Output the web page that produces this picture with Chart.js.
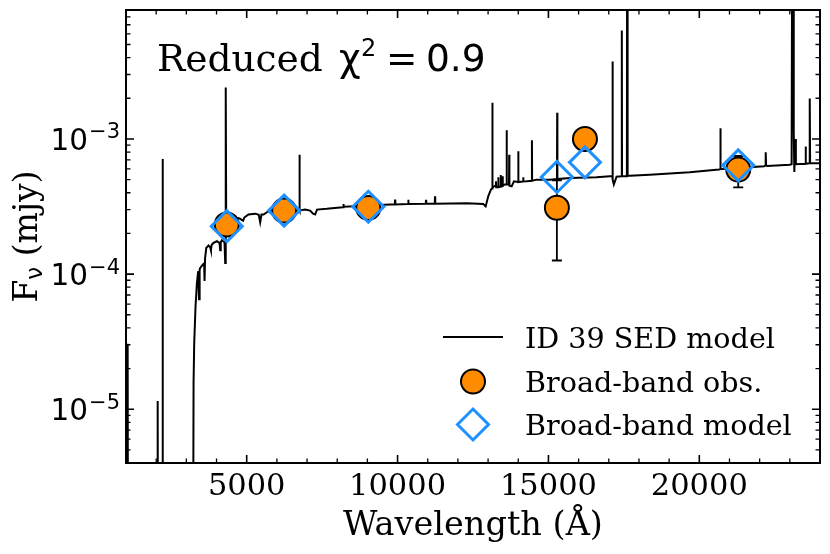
<!DOCTYPE html>
<html>
<head>
<meta charset="utf-8">
<script src="https://cdn.jsdelivr.net/npm/chart.js@4.4.1/dist/chart.umd.min.js"></script>
<style>
  html, body { margin: 0; padding: 0; background: #fff; }
  #wrap { width: 830px; height: 554px; position: relative; }
</style>
</head>
<body>
<div id="wrap"><canvas id="sed-chart"></canvas></div>
<script>
// SED model spectrum: wavelength (Å) and flux (mJy)
const sedWave = [
  1000, 1055, 1070, 2040, 2050, 2062, 2205, 2213, 2222, 3215,
  3239, 3261, 3305, 3351, 3394, 3420, 3440, 3460, 3550, 3590,
  3603, 3620, 3660, 3735, 3790, 3815, 3840, 3900, 4013, 4100,
  4122, 4140, 4178, 4265, 4288, 4300, 4311, 4322, 4400, 4500,
  4600, 4729, 4800, 4880, 4920, 5060, 5281, 5400, 5447, 5490,
  5557, 5722, 6000, 6240, 6500, 6662, 6740, 6749, 6758, 6936,
  7100, 7200, 7268, 7330, 7655, 8000, 8195, 8205, 8215, 8600,
  9030, 9400, 9751, 9910, 9917, 9925, 10350, 10357, 10364, 10936,
  10943, 10950, 11234, 11241, 11248, 12290, 12840, 12920, 13005, 13095,
  13130, 13140, 13150, 13195, 13255, 13261, 13268, 13330, 13337, 13345,
  13410, 13417, 13425, 13476, 13483, 13490, 13550, 13608, 13615, 13622,
  13693, 13700, 13707, 13780, 13857, 13993, 14000, 14007, 14158, 14165,
  14172, 14277, 14446, 14453, 14460, 14609, 15050, 15283, 15290, 15297,
  15711, 16594, 17035, 17118, 17125, 17132, 17168, 17257, 17425, 17432,
  17439, 17600, 17606, 17618, 17630, 17700, 18360, 19680, 20650, 20693,
  20700, 20707, 21300, 22150, 22185, 22200, 22215, 22250, 22995, 23060,
  23075, 23110, 23130, 23150, 23175, 23200, 23500, 23518, 23525, 23532,
  23650, 23660, 23672, 24000
];
const sedFlux = [
  3.0e-5, 3.0e-5, 1e-7, 1e-7, 1.15e-5, 1e-7, 1e-7, 7.1e-4, 1e-7, 1e-7,
  1.57e-5, 3.1e-5, 5.8e-5, 8.6e-5, 1.05e-4, 6.5e-5, 1.08e-4, 1.11e-4, 1.18e-4, 1.2e-4,
  8.9e-5, 1.3e-4, 1.56e-4, 1.63e-4, 1.58e-4, 1.5e-4, 1.65e-4, 1.7e-4, 1.75e-4, 1.7e-4,
  1.5e-4, 1.72e-4, 1.78e-4, 1.72e-4, 1.21e-4, 1.8e-4, 2.4e-3, 2.2e-4, 2.4e-4, 2.5e-4,
  2.55e-4, 2.6e-4, 2.55e-4, 2.48e-4, 2.62e-4, 2.76e-4, 2.8e-4, 2.75e-4, 2.42e-4, 2.76e-4,
  2.76e-4, 2.92e-4, 2.9e-4, 2.95e-4, 2.98e-4, 3.0e-4, 3.0e-4, 7.65e-4, 2.95e-4, 3.0e-4,
  2.95e-4, 2.8e-4, 2.76e-4, 3.0e-4, 3.04e-4, 3.1e-4, 3.12e-4, 3.3e-4, 3.15e-4, 3.18e-4,
  3.2e-4, 3.24e-4, 3.27e-4, 3.28e-4, 3.56e-4, 3.28e-4, 3.3e-4, 3.55e-4, 3.3e-4, 3.31e-4,
  3.55e-4, 3.31e-4, 3.32e-4, 3.76e-4, 3.32e-4, 3.35e-4, 3.3e-4, 3.17e-4, 3.77e-4, 4.22e-4,
  4.3e-4, 1.85e-3, 4.35e-4, 4.46e-4, 4.5e-4, 4.86e-4, 4.4e-4, 4.4e-4, 5.2e-4, 4.4e-4,
  4.45e-4, 5.4e-4, 4.45e-4, 4.5e-4, 5.3e-4, 4.5e-4, 4.6e-4, 4.6e-4, 1.16e-3, 4.6e-4,
  4.6e-4, 7.65e-4, 4.5e-4, 4.46e-4, 4.86e-4, 4.8e-4, 8.1e-4, 4.8e-4, 4.85e-4, 5.2e-4,
  4.85e-4, 4.86e-4, 4.9e-4, 9.8e-4, 4.9e-4, 5.0e-4, 5.0e-4, 5.05e-4, 1.56e-3, 5.05e-4,
  5.15e-4, 5.2e-4, 5.3e-4, 5.3e-4, 3.75e-3, 5.0e-4, 4.6e-4, 5.25e-4, 5.3e-4, 6.35e-3,
  5.3e-4, 5.3e-4, 2e-2, 2e-2, 5.35e-4, 5.35e-4, 5.44e-4, 5.66e-4, 5.95e-4, 5.97e-4,
  1.2e-3, 5.97e-4, 6.1e-4, 6.28e-4, 6.35e-4, 7.96e-4, 6.35e-4, 6.3e-4, 6.45e-4, 6.5e-4,
  2e-2, 2e-2, 1.1e-3, 5.7e-4, 1.0e-3, 6.5e-4, 6.55e-4, 6.55e-4, 8.8e-4, 6.55e-4,
  6.6e-4, 1.99e-3, 6.6e-4, 6.6e-4
];

// broad-band photometry
const bandWave = [4340, 6240, 9030, 15280, 16210, 21290];
const obsFlux = [2.33e-4, 2.95e-4, 3.09e-4, 3.10e-4, 1.0e-3, 5.93e-4];
const obsErr = [1.2e-5, 1.5e-5, 1.5e-5, 1.84e-4, 3.0e-5, 1.55e-4];
const modelFlux = [2.26e-4, 2.95e-4, 3.15e-4, 5.23e-4, 6.71e-4, 6.38e-4];

// axes
const xTicks = [5000, 10000, 15000, 20000];
const yTicks = [1e-5, 1e-4, 1e-3];
const yTickExp = ["−5", "−4", "−3"];
const legendLabels = ["ID 39 SED model", "Broad-band obs.", "Broad-band model"];

const ORANGE = "#ff8c00";
const BLUE = "#1e90ff";
const SERIF = "'DejaVu Serif'";
const SANS = "'DejaVu Sans'";

// inward ticks on all four sides + box frame
const frameTicks = {
    id: "frameTicks",
    afterDatasetsDraw(chart) {
        const { ctx, chartArea: a, scales: { x, y } } = chart;
        ctx.save();
        ctx.strokeStyle = "#000";

        function vTick(px, len, w) {
            ctx.lineWidth = w;
            ctx.beginPath();
            ctx.moveTo(px, a.bottom); ctx.lineTo(px, a.bottom - len);
            ctx.moveTo(px, a.top); ctx.lineTo(px, a.top + len);
            ctx.stroke();
        }
        function hTick(py, len, w) {
            ctx.lineWidth = w;
            ctx.beginPath();
            ctx.moveTo(a.left, py); ctx.lineTo(a.left + len, py);
            ctx.moveTo(a.right, py); ctx.lineTo(a.right - len, py);
            ctx.stroke();
        }

        for (let v = Math.ceil(x.min / 1000) * 1000; v <= x.max; v += 1000) {
            if (v % 5000 !== 0) vTick(x.getPixelForValue(v), 4.5, 1.3);
        }
        xTicks.forEach((v) => vTick(x.getPixelForValue(v), 8, 1.6));

        for (let e = -6; e <= -3; e++) {
            for (let m = 2; m <= 9; m++) {
                const v = m * Math.pow(10, e);
                if (v > y.min && v < y.max) hTick(y.getPixelForValue(v), 4.5, 1.3);
            }
        }
        yTicks.forEach((v) => hTick(y.getPixelForValue(v), 8, 1.6));

        ctx.lineWidth = 2;
        ctx.strokeRect(a.left, a.top, a.right - a.left, a.bottom - a.top);
        ctx.restore();
    }
};

// error bars on the observed points, drawn just under the orange circles
const errorBars = {
    id: "errorBars",
    beforeDatasetDraw(chart, args) {
        if (args.index !== 1) return;
        const { ctx, scales: { x, y } } = chart;
        ctx.save();
        ctx.strokeStyle = "#000";
        ctx.lineWidth = 1.8;
        bandWave.forEach((w, i) => {
            const px = x.getPixelForValue(w);
            const lo = y.getPixelForValue(obsFlux[i] - obsErr[i]);
            const hi = y.getPixelForValue(obsFlux[i] + obsErr[i]);
            ctx.beginPath();
            ctx.moveTo(px, lo); ctx.lineTo(px, hi);
            ctx.moveTo(px - 5, lo); ctx.lineTo(px + 5, lo);
            ctx.moveTo(px - 5, hi); ctx.lineTo(px + 5, hi);
            ctx.stroke();
        });
        ctx.restore();
    }
};

// y tick labels with superscripts, y title with subscript, chi^2 note, legend
const annotations = {
    id: "annotations",
    afterDraw(chart) {
        const { ctx, chartArea: a, scales: { y } } = chart;
        ctx.save();
        ctx.fillStyle = "#000";
        ctx.textAlign = "left";
        ctx.textBaseline = "alphabetic";

        // 10^n tick labels
        yTicks.forEach((v, i) => {
            const py = y.getPixelForValue(v);
            ctx.font = "21px " + SANS;
            const wExp = ctx.measureText(yTickExp[i]).width;
            ctx.font = "29.5px " + SANS;
            const wBase = ctx.measureText("10").width;
            const x0 = a.left - 6 - wExp - wBase - 1;
            ctx.fillText("10", x0, py + 10.8);
            ctx.font = "21px " + SANS;
            ctx.fillText(yTickExp[i], x0 + wBase + 1, py - 0.5);
        });

        // y axis title  F_nu (mjy)
        ctx.save();
        ctx.translate(37, (a.top + a.bottom) / 2);
        ctx.rotate(-Math.PI / 2);
        const fMain = "33px " + SERIF, fSub = "23px " + SANS;
        ctx.font = fMain;
        const wF = ctx.measureText("F").width;
        const wRest = ctx.measureText(" (mjy)").width;
        ctx.font = fSub;
        const wNu = ctx.measureText("ν").width;
        let cx = -(wF + wNu + wRest) / 2;
        ctx.font = fMain; ctx.fillText("F", cx, 0); cx += wF;
        ctx.font = fSub; ctx.fillText("ν", cx, 5); cx += wNu;
        ctx.font = fMain; ctx.fillText(" (mjy)", cx, 0);
        ctx.restore();

        // Reduced chi^2 note
        const tx = a.left + 31;
        const ty = a.top + 61;
        ctx.font = "37.5px " + SERIF;
        ctx.fillText("Reduced", tx, ty);
        ctx.font = "37.5px " + SANS;
        ctx.fillText("χ", tx + 182, ty);
        ctx.font = "24px " + SANS;
        ctx.fillText("2", tx + 204, ty - 15);
        ctx.font = "37.5px " + SANS;
        ctx.fillText("=", tx + 229, ty);
        ctx.fillText("0.9", tx + 269, ty);

        // legend
        const mx = a.right - 347;
        const lx = a.right - 295;
        const rows = [a.bottom - 126, a.bottom - 81.5, a.bottom - 38.5];
        ctx.strokeStyle = "#000";
        ctx.lineWidth = 2;
        ctx.beginPath();
        ctx.moveTo(mx - 30, rows[0]); ctx.lineTo(mx + 30, rows[0]);
        ctx.stroke();

        ctx.beginPath();
        ctx.arc(mx, rows[1], 12, 0, Math.PI * 2);
        ctx.fillStyle = ORANGE; ctx.fill();
        ctx.lineWidth = 2; ctx.stroke();

        ctx.beginPath();
        ctx.moveTo(mx - 15.5, rows[2]); ctx.lineTo(mx, rows[2] - 15.5);
        ctx.lineTo(mx + 15.5, rows[2]); ctx.lineTo(mx, rows[2] + 15.5);
        ctx.closePath();
        ctx.strokeStyle = BLUE; ctx.lineWidth = 3; ctx.stroke();

        ctx.fillStyle = "#000";
        ctx.font = "28.6px " + SERIF;
        legendLabels.forEach((t, i) => ctx.fillText(t, lx, rows[i] + 10.5));
        ctx.restore();
    }
};

const sedPoints = sedWave.map((w, i) => ({ x: w, y: sedFlux[i] }));
const obsPoints = bandWave.map((w, i) => ({ x: w, y: obsFlux[i] }));
const modelPoints = bandWave.map((w, i) => ({ x: w, y: modelFlux[i] }));

new Chart(document.getElementById("sed-chart"), {
    type: "scatter",
    data: {
        datasets: [
            {
                label: legendLabels[0],
                data: sedPoints,
                showLine: true,
                borderColor: "#000",
                borderWidth: 2,
                pointRadius: 0,
                tension: 0,
                order: 3,
            },
            {
                label: legendLabels[1],
                data: obsPoints,
                pointStyle: "circle",
                pointRadius: 12,
                borderWidth: 2,
                borderColor: "#000",
                backgroundColor: ORANGE,
                order: 2,
            },
            {
                label: legendLabels[2],
                data: modelPoints,
                pointStyle: "rectRot",
                pointRadius: 15.5,
                borderWidth: 3,
                borderColor: BLUE,
                backgroundColor: "rgba(0,0,0,0)",
                order: 1,
            },
        ]
    },
    options: {
        responsive: true,
        maintainAspectRatio: false,
        animation: false,
        events: [],
        layout: { autoPadding: false, padding: { top: 10, right: 10, left: 0, bottom: 0 } },
        plugins: { legend: { display: false }, tooltip: { enabled: false } },
        scales: {
            x: {
                type: "linear",
                min: 1000,
                max: 24000,
                bounds: "data",
                grid: { display: false, drawTicks: false },
                border: { display: false },
                afterBuildTicks: (s) => { s.ticks = xTicks.map((v) => ({ value: v })); },
                afterFit: (s) => {
                    s.height = 91;
                    s.paddingLeft = 0;
                    s.paddingRight = 0;
                },
                ticks: {
                    autoSkip: false,
                    maxRotation: 0,
                    padding: 6,
                    color: "#000",
                    font: { family: SERIF, size: 30.5 },
                    callback: (v) => String(v),
                },
                title: {
                    display: true,
                    text: "Wavelength (Å)",
                    color: "#000",
                    font: { family: SERIF, size: 33.5 },
                    padding: { top: 0, bottom: 8 },
                },
            },
            y: {
                type: "logarithmic",
                min: 4e-6,
                max: 9e-3,
                bounds: "data",
                grid: { display: false, drawTicks: false },
                border: { display: false },
                afterBuildTicks: (s) => { s.ticks = yTicks.map((v) => ({ value: v })); },
                afterFit: (s) => {
                    s.width = 126;
                    s.paddingTop = 0;
                    s.paddingBottom = 0;
                },
                ticks: { display: false },
            },
        }
    },
    plugins: [errorBars, frameTicks, annotations],
});
</script>
</body>
</html>
